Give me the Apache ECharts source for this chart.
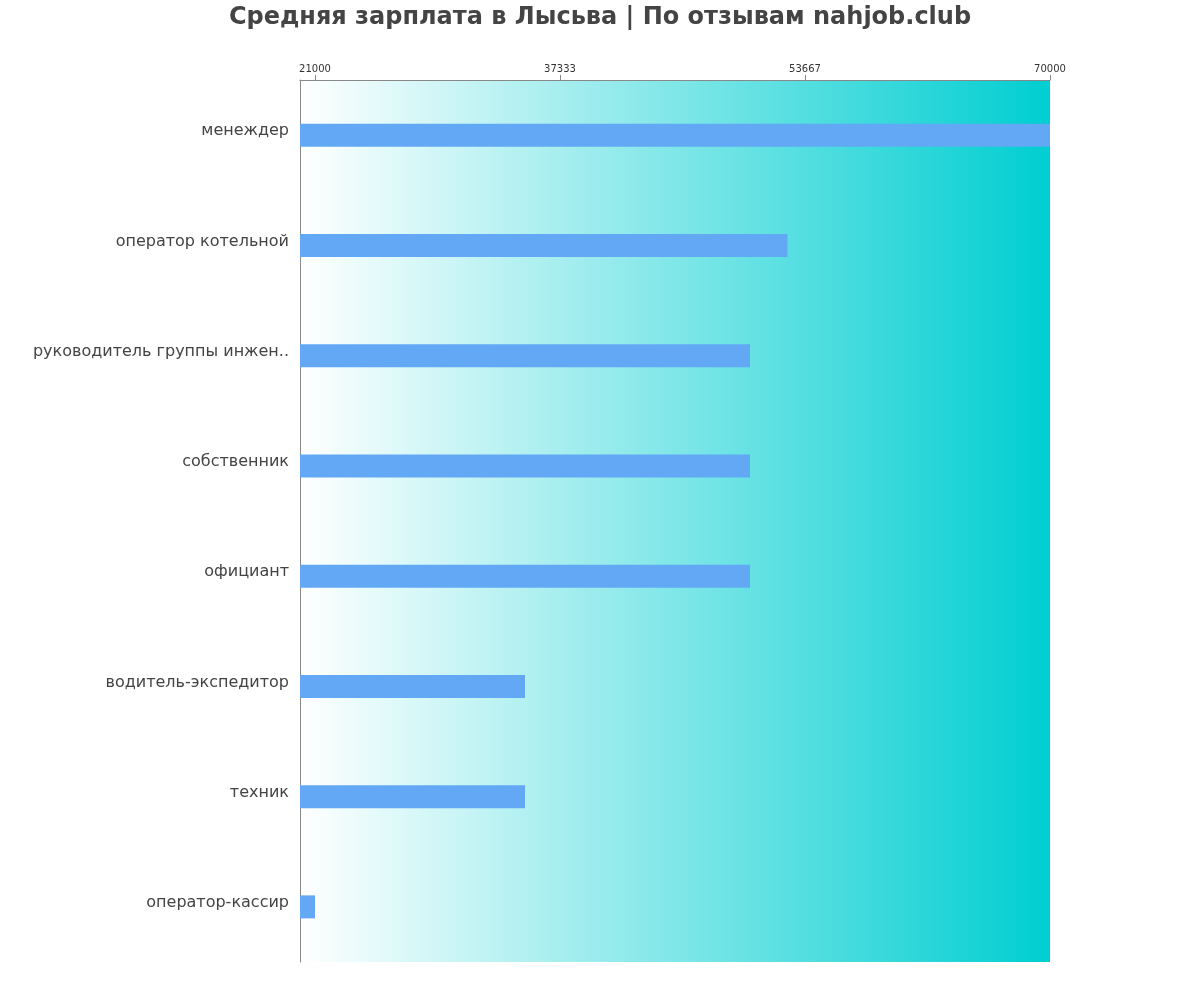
<!DOCTYPE html>
<html><head><meta charset="utf-8">
<script src="https://cdn.jsdelivr.net/npm/echarts@6/dist/echarts.min.js"></script>
<style>html,body{margin:0;padding:0;background:#fff}#c{width:1200px;height:1000px}</style>
</head><body><div id="c"></div>
<script>
const titleText = 'Средняя зарплата в Лысьва | По отзывам nahjob.club';
const categories = ['менеждер','оператор котельной','руководитель группы инженеров','собственник','официант','водитель-экспедитор','техник','оператор-кассир'];
const salaries = [70000, 52500, 50000, 50000, 50000, 35000, 35000, 21000];
const tickValues = [21000, 37333, 53667, 70000];
const axisMin = 20000, axisMax = 70000;

const FF = '"DejaVu Sans", sans-serif';
const chart = echarts.init(document.getElementById('c'));
chart.setOption({
  animation: false,
  title: {
    text: titleText, left: 'center', top: 1,
    textStyle: {fontFamily: FF, fontSize: 24, fontWeight: 'bold', color: '#444'}
  },
  grid: {
    left: 300, right: 150, top: 80, bottom: 38, show: true, borderWidth: 0,
    backgroundColor: new echarts.graphic.LinearGradient(0, 0, 1, 0, [
      {offset: 0, color: '#ffffff'}, {offset: 1, color: '#00CED1'}
    ])
  },
  xAxis: {
    type: 'value', position: 'top', min: axisMin, max: axisMax,
    axisLine: {show: true, lineStyle: {color: '#888'}},
    axisTick: {show: true, customValues: tickValues, lineStyle: {color: '#888'}},
    axisLabel: {customValues: tickValues, formatter: v => String(v), fontFamily: FF, fontSize: 10, color: '#333', margin: 6},
    splitLine: {show: false}
  },
  yAxis: {
    type: 'category', inverse: true, data: categories,
    axisLine: {show: true, lineStyle: {color: '#888'}},
    axisTick: {show: false},
    axisLabel: {fontFamily: FF, fontSize: 16, color: '#444', margin: 11,
      verticalAlign: 'bottom', lineHeight: 8,
      formatter: v => v.length > 26 ? v.slice(0, 25) + '..' : v}
  },
  series: [{
    type: 'bar', data: salaries, barWidth: 23,
    itemStyle: {color: '#62A8F4'}
  }]
});
</script></body></html>
